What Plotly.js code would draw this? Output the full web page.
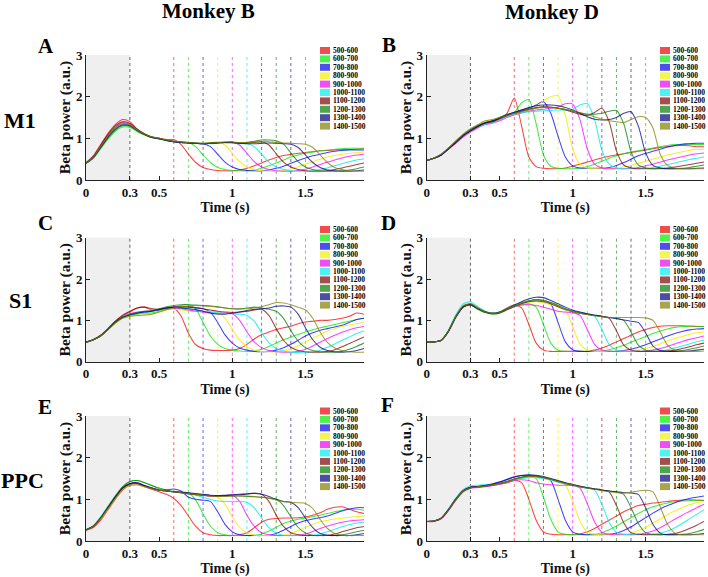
<!DOCTYPE html>
<html><head><meta charset="utf-8">
<script src="https://cdn.plot.ly/plotly-3.0.1.min.js"></script>
<style>html,body{margin:0;padding:0;background:#fff}#chart{width:708px;height:577px}</style>
</head><body><div id="chart"></div>
<script>
const time = [0.00,0.05,0.10,0.15,0.20,0.25,0.30,0.35,0.40,0.45,0.50,0.55,0.60,0.65,0.70,0.75,0.80,0.85,0.90,0.95,1.00,1.05,1.10,1.15,1.20,1.25,1.30,1.35,1.40,1.45,1.50,1.55,1.60,1.65,1.70,1.75,1.80,1.85,1.90];
const intervals = ['500-600','600-700','700-800','800-900','900-1000','1000-1100','1100-1200','1200-1300','1300-1400','1400-1500'];
const cueTimes = [0.6,0.7,0.8,0.9,1.0,1.1,1.2,1.3,1.4,1.5];
const stimEnd = 0.3;
const xTickVals = [0,0.3,0.5,1,1.5];
const xTickText = ['0','0.3','0.5','1','1.5'];
const yTickVals = [0,1,2,3];
const lineColors = ['rgba(255,0,0,0.75)','rgba(0,230,0,0.75)','rgba(0,0,255,0.75)','rgba(240,240,0,0.85)','rgba(255,0,255,0.75)','rgba(0,235,235,0.8)','rgba(130,0,0,0.75)','rgba(0,128,0,0.75)','rgba(0,0,128,0.75)','rgba(128,128,0,0.75)'];
const swatchColors = ['#f24d4d','#4df24d','#4d4df2','#f5f54d','#f24df2','#4df2f2','#a64d4d','#4da64d','#4d4da6','#a6a64d'];

const monkeyB_M1 = [
[0.42,0.58,0.85,1.12,1.33,1.45,1.40,1.22,1.10,1.02,1.00,0.97,0.97,0.85,0.62,0.42,0.30,0.25,0.23,0.22,0.22,0.24,0.28,0.34,0.41,0.48,0.54,0.59,0.62,0.64,0.66,0.68,0.70,0.71,0.72,0.73,0.73,0.74,0.75],
[0.40,0.52,0.75,0.98,1.17,1.27,1.26,1.16,1.08,1.02,0.98,0.95,0.92,0.91,0.90,0.80,0.60,0.42,0.30,0.25,0.23,0.22,0.22,0.24,0.28,0.34,0.41,0.48,0.55,0.60,0.64,0.67,0.70,0.72,0.74,0.75,0.76,0.76,0.76],
[0.40,0.55,0.80,1.05,1.25,1.35,1.32,1.20,1.10,1.03,0.99,0.95,0.92,0.90,0.89,0.88,0.87,0.80,0.62,0.43,0.31,0.25,0.23,0.22,0.22,0.24,0.28,0.33,0.40,0.47,0.53,0.58,0.62,0.66,0.69,0.71,0.72,0.72,0.72],
[0.40,0.55,0.80,1.05,1.24,1.35,1.33,1.21,1.11,1.04,1.00,0.96,0.93,0.91,0.89,0.88,0.88,0.90,0.92,0.84,0.64,0.44,0.31,0.25,0.22,0.21,0.21,0.23,0.27,0.32,0.38,0.44,0.50,0.55,0.59,0.62,0.64,0.66,0.67],
[0.40,0.56,0.82,1.07,1.27,1.38,1.34,1.21,1.10,1.03,1.00,0.96,0.93,0.91,0.90,0.88,0.87,0.88,0.90,0.91,0.92,0.84,0.64,0.44,0.31,0.25,0.22,0.21,0.21,0.23,0.26,0.31,0.37,0.43,0.48,0.53,0.57,0.60,0.62],
[0.40,0.55,0.80,1.05,1.25,1.33,1.31,1.19,1.09,1.02,0.99,0.95,0.92,0.90,0.89,0.88,0.87,0.87,0.88,0.89,0.88,0.87,0.87,0.80,0.62,0.43,0.31,0.25,0.22,0.21,0.21,0.22,0.25,0.29,0.34,0.39,0.44,0.48,0.51],
[0.41,0.57,0.83,1.09,1.30,1.40,1.36,1.22,1.11,1.03,1.00,0.96,0.93,0.91,0.89,0.88,0.87,0.88,0.89,0.90,0.90,0.89,0.89,0.90,0.92,0.84,0.63,0.43,0.31,0.25,0.22,0.21,0.21,0.22,0.25,0.29,0.33,0.37,0.41],
[0.40,0.53,0.77,1.01,1.20,1.30,1.29,1.18,1.09,1.02,0.99,0.95,0.92,0.90,0.89,0.88,0.88,0.89,0.90,0.90,0.90,0.89,0.90,0.93,0.96,0.96,0.94,0.86,0.65,0.44,0.31,0.25,0.22,0.21,0.21,0.22,0.24,0.27,0.31],
[0.40,0.54,0.78,1.03,1.22,1.32,1.30,1.19,1.09,1.02,0.99,0.95,0.92,0.90,0.89,0.88,0.87,0.88,0.89,0.90,0.90,0.88,0.87,0.87,0.88,0.89,0.88,0.87,0.86,0.78,0.60,0.42,0.30,0.24,0.22,0.21,0.21,0.22,0.24],
[0.40,0.55,0.80,1.05,1.25,1.35,1.32,1.20,1.10,1.03,1.00,0.96,0.93,0.91,0.90,0.89,0.88,0.89,0.90,0.91,0.91,0.90,0.90,0.91,0.92,0.92,0.90,0.89,0.88,0.87,0.86,0.78,0.60,0.42,0.30,0.25,0.22,0.21,0.21]
];

const monkeyD_M1 = [
[0.47,0.52,0.61,0.76,0.92,1.08,1.20,1.30,1.38,1.40,1.45,1.60,1.97,1.30,0.55,0.32,0.28,0.27,0.27,0.29,0.33,0.38,0.43,0.48,0.53,0.57,0.60,0.63,0.66,0.69,0.72,0.75,0.78,0.80,0.82,0.83,0.82,0.80,0.80],
[0.47,0.52,0.60,0.75,0.91,1.06,1.18,1.28,1.37,1.42,1.48,1.55,1.62,1.85,1.93,1.35,0.60,0.33,0.28,0.27,0.27,0.28,0.32,0.38,0.45,0.52,0.58,0.63,0.67,0.70,0.73,0.77,0.80,0.83,0.85,0.86,0.86,0.85,0.85],
[0.47,0.53,0.62,0.77,0.93,1.08,1.20,1.30,1.38,1.42,1.50,1.57,1.62,1.68,1.72,1.80,1.88,1.60,1.05,0.55,0.34,0.29,0.28,0.28,0.28,0.30,0.35,0.42,0.50,0.58,0.64,0.69,0.74,0.79,0.83,0.86,0.87,0.88,0.88],
[0.47,0.52,0.60,0.74,0.90,1.05,1.18,1.30,1.40,1.45,1.48,1.53,1.58,1.63,1.68,1.75,1.90,2.00,2.02,1.55,0.75,0.38,0.29,0.27,0.27,0.27,0.28,0.31,0.35,0.40,0.45,0.50,0.55,0.60,0.64,0.68,0.71,0.73,0.74],
[0.47,0.52,0.60,0.74,0.88,1.03,1.15,1.25,1.33,1.36,1.42,1.50,1.56,1.61,1.65,1.68,1.70,1.72,1.75,1.83,1.82,1.45,0.75,0.38,0.29,0.27,0.27,0.27,0.28,0.30,0.34,0.38,0.43,0.48,0.52,0.56,0.60,0.63,0.65],
[0.47,0.52,0.61,0.76,0.92,1.07,1.18,1.27,1.34,1.38,1.45,1.52,1.58,1.62,1.64,1.65,1.66,1.67,1.68,1.68,1.70,1.80,1.84,1.45,0.72,0.38,0.29,0.27,0.27,0.27,0.28,0.30,0.33,0.37,0.41,0.45,0.49,0.52,0.55],
[0.47,0.52,0.60,0.75,0.91,1.06,1.18,1.28,1.36,1.40,1.47,1.54,1.60,1.65,1.70,1.74,1.76,1.75,1.72,1.68,1.63,1.58,1.55,1.62,1.72,1.40,0.70,0.36,0.29,0.27,0.27,0.27,0.28,0.29,0.31,0.34,0.37,0.40,0.43],
[0.47,0.52,0.61,0.76,0.92,1.08,1.20,1.30,1.38,1.42,1.50,1.57,1.62,1.66,1.70,1.73,1.75,1.74,1.72,1.69,1.65,1.61,1.58,1.58,1.60,1.65,1.67,1.35,0.68,0.36,0.29,0.27,0.27,0.27,0.27,0.28,0.30,0.33,0.36],
[0.47,0.52,0.60,0.75,0.90,1.06,1.18,1.29,1.37,1.41,1.49,1.56,1.62,1.68,1.74,1.78,1.80,1.80,1.78,1.74,1.68,1.60,1.52,1.46,1.44,1.45,1.50,1.60,1.64,1.30,0.65,0.35,0.29,0.27,0.27,0.27,0.27,0.28,0.29],
[0.47,0.53,0.62,0.77,0.94,1.10,1.23,1.33,1.42,1.45,1.50,1.55,1.60,1.64,1.68,1.72,1.74,1.74,1.72,1.70,1.66,1.62,1.57,1.52,1.46,1.42,1.40,1.38,1.45,1.52,1.50,1.25,0.62,0.35,0.29,0.27,0.27,0.27,0.27]
];

const monkeyB_S1 = [
[0.47,0.53,0.63,0.79,0.97,1.12,1.20,1.30,1.32,1.25,1.25,1.30,1.30,1.10,0.69,0.41,0.32,0.28,0.27,0.27,0.28,0.32,0.42,0.55,0.65,0.72,0.78,0.82,0.86,0.92,0.96,0.98,1.00,1.00,1.02,1.05,1.10,1.18,1.15],
[0.47,0.53,0.63,0.78,0.95,1.06,1.12,1.15,1.17,1.18,1.22,1.28,1.32,1.36,1.38,1.28,0.95,0.62,0.42,0.32,0.28,0.26,0.25,0.26,0.30,0.37,0.45,0.53,0.60,0.66,0.72,0.77,0.82,0.86,0.90,0.94,0.98,1.02,1.05],
[0.47,0.53,0.62,0.78,0.95,1.07,1.14,1.18,1.20,1.22,1.26,1.30,1.32,1.32,1.32,1.30,1.28,1.20,0.95,0.65,0.45,0.33,0.28,0.25,0.24,0.25,0.28,0.34,0.42,0.52,0.62,0.70,0.76,0.80,0.84,0.88,0.95,1.02,1.05],
[0.47,0.53,0.62,0.77,0.93,1.05,1.10,1.12,1.13,1.15,1.20,1.25,1.27,1.25,1.23,1.22,1.22,1.22,1.20,1.05,0.78,0.52,0.36,0.28,0.25,0.24,0.24,0.26,0.31,0.39,0.48,0.57,0.66,0.74,0.80,0.85,0.89,0.92,0.95],
[0.47,0.53,0.63,0.78,0.96,1.09,1.16,1.20,1.22,1.23,1.27,1.30,1.30,1.28,1.25,1.22,1.20,1.18,1.17,1.18,1.16,1.00,0.72,0.48,0.34,0.27,0.24,0.23,0.23,0.25,0.30,0.38,0.47,0.56,0.64,0.71,0.77,0.82,0.85],
[0.47,0.53,0.62,0.78,0.95,1.08,1.14,1.17,1.19,1.21,1.26,1.30,1.31,1.30,1.28,1.25,1.22,1.20,1.18,1.17,1.16,1.15,1.12,0.98,0.70,0.46,0.32,0.26,0.23,0.22,0.22,0.24,0.28,0.35,0.43,0.52,0.60,0.68,0.75],
[0.48,0.54,0.64,0.80,0.98,1.12,1.22,1.30,1.32,1.28,1.27,1.30,1.32,1.33,1.33,1.31,1.28,1.25,1.22,1.20,1.19,1.20,1.22,1.25,1.27,1.12,0.80,0.52,0.35,0.27,0.24,0.23,0.23,0.25,0.29,0.36,0.44,0.52,0.60],
[0.47,0.53,0.63,0.78,0.95,1.08,1.15,1.19,1.22,1.24,1.28,1.33,1.36,1.38,1.38,1.37,1.36,1.35,1.33,1.30,1.28,1.28,1.30,1.32,1.30,1.27,1.22,1.05,0.75,0.50,0.34,0.27,0.24,0.23,0.23,0.25,0.30,0.37,0.45],
[0.47,0.53,0.62,0.78,0.95,1.07,1.13,1.17,1.20,1.22,1.26,1.30,1.31,1.30,1.28,1.26,1.22,1.18,1.15,1.15,1.17,1.20,1.24,1.27,1.28,1.30,1.34,1.35,1.32,1.15,0.82,0.53,0.35,0.27,0.24,0.23,0.24,0.27,0.32],
[0.47,0.53,0.62,0.77,0.93,1.05,1.10,1.12,1.13,1.15,1.20,1.26,1.30,1.33,1.35,1.36,1.35,1.34,1.32,1.30,1.28,1.27,1.28,1.30,1.33,1.38,1.43,1.42,1.38,1.32,1.25,1.05,0.72,0.47,0.33,0.27,0.24,0.23,0.23]
];

const monkeyD_S1 = [
[0.47,0.48,0.52,0.74,1.08,1.32,1.37,1.28,1.20,1.17,1.20,1.30,1.38,1.30,0.90,0.45,0.28,0.25,0.25,0.25,0.25,0.25,0.25,0.28,0.33,0.40,0.48,0.56,0.64,0.72,0.78,0.83,0.86,0.87,0.87,0.87,0.86,0.85,0.85],
[0.47,0.48,0.52,0.75,1.10,1.35,1.40,1.30,1.20,1.15,1.17,1.25,1.33,1.38,1.40,1.32,0.90,0.45,0.28,0.25,0.25,0.25,0.25,0.25,0.26,0.29,0.34,0.40,0.47,0.54,0.61,0.68,0.74,0.79,0.83,0.85,0.86,0.86,0.85],
[0.47,0.48,0.52,0.74,1.08,1.32,1.38,1.29,1.21,1.17,1.19,1.27,1.35,1.42,1.47,1.50,1.48,1.40,0.95,0.48,0.29,0.25,0.25,0.25,0.25,0.25,0.25,0.27,0.30,0.35,0.41,0.48,0.55,0.62,0.68,0.73,0.77,0.79,0.80],
[0.47,0.48,0.52,0.76,1.12,1.37,1.42,1.31,1.22,1.18,1.20,1.28,1.36,1.41,1.44,1.45,1.42,1.38,1.33,1.25,0.85,0.43,0.28,0.25,0.25,0.25,0.25,0.25,0.26,0.28,0.32,0.37,0.43,0.50,0.56,0.61,0.66,0.70,0.72],
[0.47,0.48,0.52,0.75,1.10,1.35,1.40,1.30,1.21,1.17,1.19,1.26,1.33,1.37,1.38,1.36,1.32,1.27,1.22,1.20,1.18,1.12,0.78,0.42,0.28,0.25,0.25,0.25,0.25,0.25,0.26,0.28,0.32,0.37,0.43,0.49,0.54,0.58,0.62],
[0.47,0.48,0.52,0.77,1.14,1.40,1.45,1.33,1.23,1.18,1.20,1.28,1.37,1.43,1.48,1.50,1.48,1.43,1.36,1.29,1.23,1.19,1.16,1.10,0.78,0.42,0.28,0.25,0.25,0.25,0.25,0.25,0.26,0.29,0.33,0.38,0.43,0.48,0.52],
[0.47,0.48,0.52,0.74,1.08,1.32,1.38,1.28,1.20,1.16,1.18,1.26,1.34,1.40,1.45,1.47,1.45,1.40,1.33,1.26,1.21,1.17,1.14,1.12,1.10,1.05,0.75,0.40,0.28,0.25,0.25,0.25,0.25,0.26,0.28,0.32,0.36,0.41,0.45],
[0.47,0.48,0.52,0.74,1.08,1.32,1.37,1.27,1.19,1.16,1.19,1.27,1.35,1.42,1.47,1.50,1.48,1.43,1.36,1.28,1.22,1.18,1.15,1.12,1.09,1.07,1.05,1.00,0.72,0.40,0.28,0.25,0.25,0.25,0.25,0.27,0.30,0.34,0.38],
[0.47,0.48,0.52,0.75,1.10,1.34,1.39,1.29,1.21,1.17,1.20,1.28,1.37,1.45,1.52,1.56,1.55,1.48,1.40,1.32,1.25,1.20,1.16,1.13,1.10,1.07,1.04,1.01,0.98,0.95,0.70,0.38,0.27,0.25,0.25,0.25,0.26,0.28,0.30],
[0.47,0.48,0.52,0.75,1.10,1.35,1.40,1.30,1.21,1.17,1.19,1.27,1.35,1.42,1.47,1.50,1.48,1.42,1.35,1.27,1.21,1.17,1.14,1.11,1.09,1.07,1.07,1.07,1.07,1.07,1.06,1.00,0.72,0.40,0.28,0.25,0.25,0.25,0.26]
];

const monkeyB_PPC = [
[0.25,0.32,0.50,0.75,1.00,1.22,1.35,1.38,1.30,1.24,1.18,1.12,1.02,0.85,0.60,0.35,0.20,0.15,0.13,0.13,0.13,0.15,0.20,0.32,0.45,0.52,0.54,0.55,0.55,0.56,0.58,0.62,0.68,0.76,0.81,0.82,0.76,0.70,0.66],
[0.27,0.35,0.55,0.80,1.06,1.30,1.42,1.45,1.40,1.33,1.25,1.20,1.18,1.17,1.15,0.98,0.65,0.36,0.20,0.15,0.13,0.13,0.13,0.14,0.17,0.24,0.33,0.42,0.48,0.52,0.55,0.58,0.62,0.66,0.70,0.74,0.76,0.76,0.74],
[0.27,0.35,0.55,0.80,1.05,1.27,1.37,1.38,1.32,1.27,1.22,1.23,1.25,1.20,1.05,1.00,0.98,0.95,0.70,0.40,0.22,0.15,0.13,0.13,0.13,0.14,0.18,0.26,0.35,0.43,0.49,0.53,0.56,0.60,0.66,0.72,0.77,0.80,0.80],
[0.27,0.35,0.54,0.78,1.02,1.24,1.34,1.34,1.30,1.26,1.22,1.20,1.18,1.16,1.14,1.12,1.10,1.08,1.05,0.88,0.58,0.33,0.19,0.14,0.13,0.13,0.13,0.14,0.18,0.25,0.33,0.40,0.46,0.50,0.53,0.55,0.57,0.59,0.60],
[0.27,0.35,0.55,0.80,1.05,1.27,1.38,1.40,1.33,1.27,1.22,1.20,1.18,1.16,1.14,1.12,1.10,1.08,1.07,1.08,1.10,0.95,0.62,0.35,0.20,0.15,0.13,0.13,0.13,0.14,0.17,0.23,0.30,0.36,0.41,0.45,0.48,0.50,0.51],
[0.28,0.37,0.58,0.83,1.08,1.28,1.37,1.38,1.32,1.27,1.22,1.20,1.18,1.16,1.13,1.10,1.05,1.00,0.96,0.95,0.95,0.95,0.93,0.80,0.55,0.32,0.19,0.14,0.13,0.13,0.13,0.14,0.17,0.22,0.28,0.34,0.39,0.43,0.45],
[0.27,0.35,0.55,0.80,1.05,1.27,1.37,1.38,1.32,1.26,1.22,1.20,1.18,1.16,1.13,1.11,1.09,1.08,1.08,1.09,1.10,1.11,1.13,1.15,1.12,0.95,0.62,0.35,0.20,0.15,0.13,0.13,0.13,0.14,0.17,0.22,0.27,0.32,0.35],
[0.27,0.36,0.56,0.82,1.08,1.30,1.43,1.45,1.40,1.33,1.27,1.22,1.19,1.17,1.15,1.13,1.11,1.09,1.08,1.08,1.08,1.08,1.07,1.06,1.05,1.03,1.00,0.85,0.58,0.33,0.19,0.14,0.13,0.13,0.13,0.15,0.18,0.22,0.26],
[0.27,0.35,0.55,0.80,1.05,1.27,1.38,1.40,1.33,1.27,1.22,1.20,1.18,1.17,1.16,1.14,1.12,1.10,1.09,1.10,1.11,1.12,1.13,1.14,1.12,1.07,1.00,0.95,0.93,0.80,0.55,0.32,0.18,0.14,0.13,0.13,0.13,0.15,0.18],
[0.27,0.35,0.54,0.78,1.02,1.24,1.33,1.35,1.30,1.26,1.22,1.20,1.18,1.16,1.14,1.12,1.10,1.08,1.07,1.07,1.08,1.08,1.08,1.07,1.05,1.02,0.98,0.95,0.93,0.92,0.90,0.78,0.52,0.30,0.18,0.14,0.13,0.13,0.13]
];

const monkeyD_PPC = [
[0.47,0.48,0.55,0.76,1.02,1.22,1.29,1.30,1.31,1.33,1.36,1.40,1.45,1.40,1.00,0.50,0.22,0.16,0.15,0.15,0.15,0.17,0.22,0.30,0.40,0.50,0.60,0.70,0.78,0.85,0.88,0.91,0.93,0.95,0.97,0.98,0.99,0.98,0.97],
[0.47,0.48,0.54,0.74,0.98,1.18,1.27,1.30,1.32,1.35,1.38,1.42,1.47,1.52,1.57,1.50,1.05,0.52,0.22,0.16,0.15,0.15,0.15,0.16,0.20,0.27,0.36,0.46,0.56,0.66,0.75,0.82,0.87,0.91,0.94,0.96,0.97,0.98,0.98],
[0.47,0.48,0.55,0.76,1.01,1.21,1.29,1.31,1.33,1.37,1.42,1.48,1.54,1.57,1.58,1.56,1.52,1.45,1.00,0.50,0.22,0.16,0.15,0.15,0.15,0.16,0.19,0.25,0.34,0.45,0.56,0.67,0.77,0.85,0.92,0.98,1.02,1.05,1.08],
[0.47,0.48,0.55,0.75,1.00,1.20,1.28,1.30,1.32,1.35,1.38,1.42,1.48,1.52,1.54,1.53,1.50,1.46,1.42,1.35,0.95,0.48,0.21,0.16,0.15,0.15,0.15,0.16,0.19,0.25,0.33,0.43,0.53,0.63,0.72,0.80,0.87,0.92,0.95],
[0.46,0.47,0.53,0.73,0.98,1.18,1.26,1.28,1.30,1.33,1.36,1.40,1.45,1.47,1.45,1.40,1.37,1.35,1.34,1.34,1.33,1.27,0.90,0.46,0.21,0.16,0.15,0.15,0.15,0.16,0.19,0.24,0.32,0.42,0.52,0.62,0.71,0.80,0.88],
[0.47,0.48,0.55,0.77,1.03,1.24,1.32,1.34,1.35,1.36,1.38,1.42,1.47,1.50,1.52,1.52,1.50,1.46,1.41,1.37,1.33,1.29,1.27,1.22,0.88,0.45,0.21,0.16,0.15,0.15,0.15,0.16,0.19,0.24,0.32,0.42,0.53,0.64,0.75],
[0.47,0.48,0.55,0.75,1.00,1.20,1.28,1.30,1.32,1.35,1.38,1.43,1.49,1.53,1.55,1.55,1.52,1.48,1.43,1.38,1.34,1.30,1.27,1.25,1.23,1.18,0.85,0.44,0.20,0.16,0.15,0.15,0.15,0.16,0.18,0.23,0.30,0.38,0.47],
[0.47,0.48,0.55,0.75,1.00,1.20,1.28,1.30,1.32,1.35,1.38,1.42,1.48,1.53,1.57,1.56,1.53,1.49,1.44,1.39,1.35,1.31,1.28,1.25,1.22,1.20,1.18,1.12,0.80,0.42,0.20,0.16,0.15,0.15,0.15,0.16,0.18,0.22,0.28],
[0.47,0.48,0.55,0.76,1.01,1.21,1.29,1.31,1.33,1.37,1.41,1.47,1.53,1.57,1.59,1.58,1.55,1.50,1.45,1.40,1.36,1.32,1.28,1.25,1.22,1.20,1.18,1.16,1.15,1.12,0.80,0.40,0.19,0.15,0.15,0.15,0.15,0.16,0.18],
[0.47,0.48,0.55,0.75,1.00,1.20,1.28,1.30,1.32,1.35,1.38,1.42,1.48,1.52,1.55,1.55,1.52,1.48,1.43,1.38,1.35,1.30,1.27,1.24,1.21,1.18,1.16,1.15,1.17,1.20,1.22,1.18,0.82,0.40,0.19,0.15,0.15,0.15,0.15]
];

const panelLetters = ['A','B','C','D','E','F'];
const rowLabels = ['M1','S1','PPC'];
const monkeyTitles = ['Monkey B','Monkey D'];

// ---------- layout geometry (pixels of the 708x577 figure) ----------
const W = 708, H = 577;
const colPx = [[86,364],[426.7,704]];
const rowPx = [[55,180],[237.7,361.7],[416,541]];
const px = v => v / W;
const py = v => 1 - v / H;

const serif = "'Liberation Serif', 'Times New Roman', serif";
const panelData = [monkeyB_M1, monkeyD_M1, monkeyB_S1, monkeyD_S1, monkeyB_PPC, monkeyD_PPC];

const traces = [];
const shapes = [];
const annotations = [];
const layout = {
  width: W, height: H,
  margin: {l:0, r:0, t:0, b:0},
  paper_bgcolor: '#fff', plot_bgcolor: '#fff',
  showlegend: false,
  font: {family: serif, color: '#000'},
  shapes: shapes, annotations: annotations
};

panelData.forEach((series, p) => {
  const row = Math.floor(p / 2), col = p % 2;
  const n = p + 1;
  const xa = 'xaxis' + (n === 1 ? '' : n), ya = 'yaxis' + (n === 1 ? '' : n);
  const xr = 'x' + (n === 1 ? '' : n), yr = 'y' + (n === 1 ? '' : n);
  layout[xa] = {
    domain: [px(colPx[col][0]), px(colPx[col][1])],
    anchor: yr, range: [0, 1.9], fixedrange: true,
    tickmode: 'array', tickvals: xTickVals, ticktext: xTickText,
    ticks: 'inside', ticklen: 4, tickcolor: '#222', tickwidth: 1,
    showline: true, linecolor: '#222', linewidth: 1, mirror: false,
    showgrid: false, zeroline: false,
    tickfont: {family: serif, size: 13, weight: 'bold', color: '#111'},
    title: {text: 'Time (s)', standoff: 3, font: {family: serif, size: 14, weight: 'bold', color: '#111'}}
  };
  layout[ya] = {
    domain: [py(rowPx[row][1]), py(rowPx[row][0])],
    anchor: xr, range: [0, 3], fixedrange: true,
    tickmode: 'array', tickvals: yTickVals,
    ticks: 'inside', ticklen: 4, tickcolor: '#222', tickwidth: 1,
    showline: true, linecolor: '#222', linewidth: 1, mirror: false,
    showgrid: false, zeroline: false,
    tickfont: {family: serif, size: 13, weight: 'bold', color: '#111'},
    title: {text: 'Beta power (a.u.)', standoff: 1, font: {family: serif, size: 15.5, weight: 'bold', color: '#111'}}
  };
  // shaded stimulus period
  shapes.push({type: 'rect', xref: xr, yref: yr + ' domain', x0: 0, x1: stimEnd, y0: 0, y1: 1,
    fillcolor: '#efefef', line: {width: 0}, layer: 'below'});
  shapes.push({type: 'line', xref: xr, yref: yr + ' domain', x0: stimEnd, x1: stimEnd, y0: 0, y1: 1,
    line: {color: '#666', width: 1, dash: 'dot'}, layer: 'below'});
  cueTimes.forEach((c, k) => {
    shapes.push({type: 'line', xref: xr, yref: yr + ' domain', x0: c, x1: c, y0: 0, y1: 1,
      line: {color: lineColors[k], width: 1, dash: 'dot'}, opacity: 0.8, layer: 'below'});
  });
  series.forEach((vals, k) => {
    traces.push({x: time, y: vals, xaxis: xr, yaxis: yr, type: 'scatter', mode: 'lines',
      line: {color: lineColors[k], width: 1.05, shape: 'spline', smoothing: 0.7},
      hoverinfo: 'skip', name: intervals[k]});
  });
  // legend (drawn manually, compact)
  const legTop = [50.5, 229.5, 411][row];
  const swX = [320, 660][col];
  intervals.forEach((lab, k) => {
    const yc = legTop + k * 8.4;
    shapes.push({type: 'rect', xref: 'paper', yref: 'paper', x0: px(swX), x1: px(swX + 10),
      y0: py(yc + 3.5), y1: py(yc - 3.5), fillcolor: swatchColors[k], line: {width: 0}});
    annotations.push({xref: 'paper', yref: 'paper', x: px(swX + 11), y: py(yc), text: lab,
      showarrow: false, xanchor: 'left', yanchor: 'middle',
      font: {family: serif, size: 7.5, weight: 'bold', color: '#000'}});
  });
  // panel letter
  const letterPos = [[45.5,45.5],[388.5,45],[45.5,222.7],[388.5,222.5],[44.5,406.5],[388,404.5]][p];
  annotations.push({xref: 'paper', yref: 'paper', x: px(letterPos[0]), y: py(letterPos[1]), text: panelLetters[p],
    showarrow: false, xanchor: 'center', yanchor: 'middle',
    font: {family: serif, size: 21, weight: 'bold', color: '#000'}});
});

// column titles
[[208, 11], [552, 12]].forEach((pos, i) => {
  annotations.push({xref: 'paper', yref: 'paper', x: px(pos[0]), y: py(pos[1]), text: monkeyTitles[i],
    showarrow: false, xanchor: 'center', yanchor: 'middle',
    font: {family: serif, size: 21, weight: 'bold', color: '#000'}});
});
// row labels
[[20, 120], [20.5, 300], [22.5, 480.5]].forEach((pos, i) => {
  annotations.push({xref: 'paper', yref: 'paper', x: px(pos[0]), y: py(pos[1]), text: rowLabels[i],
    showarrow: false, xanchor: 'center', yanchor: 'middle',
    font: {family: serif, size: 22, weight: 'bold', color: '#000'}});
});

Plotly.newPlot('chart', traces, layout, {staticPlot: true, displayModeBar: false});
</script>
</body></html>
